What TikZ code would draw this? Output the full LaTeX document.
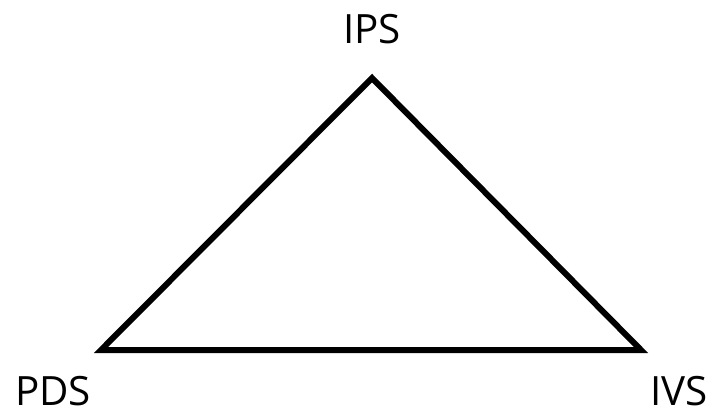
\documentclass[tikz,border=0pt]{standalone}
\usepackage{fontspec}
\setmainfont{Open Sans}
\usetikzlibrary{positioning}

\begin{document}
\begin{tikzpicture}[
    x=1bp, y=-1bp,
    corner/.style={inner sep=0pt},
    label/.style={anchor=base, inner sep=0pt, font=\fontsize{40.5}{48}\selectfont},
    edge/.style={line width=6bp, line join=miter}
  ]
  \useasboundingbox (0,0) rectangle (717,417);
  \coordinate (ips) at (372,78);
  \coordinate (pds) at (101,350);
  \coordinate (ivs) at (641,350);

  \node[label] (ipslab) at (372,43) {IPS};
  \node[label] (pdslab) at (53,405) {PDS};
  \node[label] (ivslab) at (679,405) {IVS};

  \draw[edge] (ips) -- (ivs) -- (pds) -- cycle;
\end{tikzpicture}
\end{document}
